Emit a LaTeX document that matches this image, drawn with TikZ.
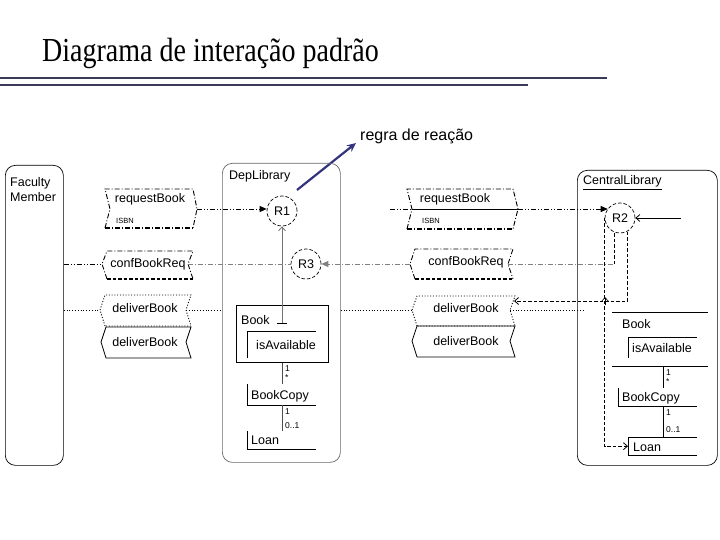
\documentclass[tikz,border=0pt]{standalone}
\usepackage{fontspec}
\usepackage{graphicx}
\setmainfont{Liberation Sans}
\newfontfamily\titlefont{Liberation Serif}
\usetikzlibrary{arrows.meta}
\definecolor{rulecol}{HTML}{3A3A58}
\definecolor{navyarrow}{HTML}{33337F}
\begin{document}
\begin{tikzpicture}[x=1pt,y=-1pt,
  lbl/.style={font=\fontsize{12.5}{14}\selectfont, inner sep=0pt},
  small/.style={font=\fontsize{8.5}{10}\selectfont, inner sep=0pt},
  tiny/.style={font=\fontsize{7.5}{9}\selectfont, inner sep=0pt},
  dd/.style={dash pattern=on 5pt off 2pt on 1pt off 2pt on 1pt off 2pt},
  dashdot/.style={dash pattern=on 5pt off 2pt on 1pt off 2pt},
  dots/.style={dash pattern=on 1pt off 1.8pt},
  dsh/.style={dash pattern=on 3.5pt off 2pt},
  lane/.style={draw, rounded corners=10pt, line width=0.7pt, inner sep=0pt},
  rulec/.style={circle, draw, dsh, line width=0.7pt, minimum size=30pt, inner sep=0pt, font=\fontsize{12.5}{14}\selectfont},
  fillarr/.style={-{Triangle[length=7pt,width=6pt]}},
  openarr/.style={-{Straight Barb[length=4pt,width=7pt]}},
  clsline/.style={line width=0.7pt}
]
\useasboundingbox (0,0) rectangle (720,540);

% title and rules
\node[anchor=base west, inner sep=0pt] (title) at (42,62)
  {\titlefont\fontsize{28}{30}\selectfont\scalebox{1}[1.2]{Diagrama de interação padrão}};
\draw[rulecol, line width=1.1pt] (0,78) -- (607,78);
\draw[rulecol, line width=1.1pt] (0,85) -- (528,85);

% annotation
\node[anchor=base west, inner sep=0pt, font=\fontsize{16}{18}\selectfont] (rr) at (360,141) {regra de reação};
\coordinate (rrtail) at (297,190);
\coordinate (rrtip) at (356,143);
\draw[navyarrow, line width=2.2pt, -{Stealth[length=9pt,width=8pt]}] (rrtail) -- (rrtip);

% lanes
\node[lane, anchor=north west, minimum width=58pt, minimum height=300pt] (fac) at (5,165) {};
\node[lane, draw=black!60, anchor=north west, minimum width=118pt, minimum height=299pt] (dep) at (222,163) {};
\node[lane, anchor=north west, minimum width=140pt, minimum height=295pt] (cen) at (577,170) {};
\node[lbl, anchor=base west] (facT1) at (10,187) {Faculty};
\node[lbl, anchor=base west] (facT2) at (10,202) {Member};
\node[lbl, anchor=base west] (depT) at (229,180) {DepLibrary};
\node[lbl, anchor=base west] (cenT) at (583,185) {\underline{CentralLibrary}};

% reaction rules
\node[rulec] (R1) at (282,211) {R1};
\node[rulec] (R3) at (306,264) {R3};
\node[rulec] (R2) at (620,218) {R2};

% ---- left messages ----
\draw[dashdot, line width=0.9pt] (105,228) -- (110,209) -- (105,189) -- (193,189) -- (197,209) -- (193,228);
\draw[dashdot, line width=1.8pt] (105,228) -- (193,228);
\coordinate (rqLtip) at (197,209);
\node[lbl] (rqL) at (150,199) {requestBook};
\node[tiny, anchor=west] (isbnL) at (116,221) {ISBN};

\draw[dashdot, line width=0.9pt] (107,279) -- (102,264) -- (107,251) -- (193,251) -- (188,264) -- (193,279);
\draw[dsh, line width=1.8pt] (107,279) -- (193,279);
\coordinate (cbLpt) at (102,264);
\coordinate (cbLn) at (188,264);
\node[lbl] (cbL) at (148,264) {confBookReq};

\draw[dots, line width=0.9pt] (105,326) -- (100,310) -- (105,295) -- (191,295) -- (186,310) -- (191,326) -- cycle;
\coordinate (dlLpt) at (100,310);
\coordinate (dlLn) at (186,310);
\node[lbl] (dlL) at (145,308) {deliverBook};

\draw[line width=0.8pt] (106,358) -- (101,342) -- (106,327) -- (191,327) -- (186,342) -- (191,358) -- cycle;
\node[lbl] (dlL2) at (145,342) {deliverBook};

% ---- right messages ----
\draw[dashdot, line width=0.9pt] (407,229) -- (412,209) -- (407,189) -- (513,189) -- (518,209) -- (513,229);
\draw[dashdot, line width=1.8pt] (407,229) -- (513,229);
\coordinate (rqRstart) at (390,209);
\coordinate (rqRn) at (412,209);
\coordinate (rqRtip) at (518,209);
\node[lbl] (rqR) at (455,199) {requestBook};
\node[tiny, anchor=west] (isbnR) at (422,221) {ISBN};

\draw[dashdot, line width=0.9pt] (415,279) -- (410,264) -- (415,249) -- (513,249) -- (508,264) -- (513,279);
\draw[dsh, line width=1.8pt] (415,279) -- (513,279);
\coordinate (cbRpt) at (410,264);
\coordinate (cbRn) at (508,264);
\node[lbl] (cbR) at (466,262) {confBookReq};

\draw[dots, line width=0.9pt] (417,326) -- (412,310) -- (417,296) -- (515,296) -- (510,310) -- (515,326) -- cycle;
\coordinate (dlRpt) at (412,310);
\coordinate (dlRn) at (510,310);
\coordinate (dlRarr) at (514,301);
\node[lbl] (dlR) at (466,308) {deliverBook};

\draw[line width=0.8pt] (417,357) -- (412,341) -- (417,326) -- (515,326) -- (510,341) -- (515,357) -- cycle;
\node[lbl] (dlR2) at (466,341) {deliverBook};

% ---- DepLibrary classes ----
\node[draw, clsline, anchor=north west, minimum width=92pt, minimum height=57pt, inner sep=0pt] (bookD) at (236,305) {};
\node[lbl, anchor=base west] (bookDT) at (241,324) {Book};
\node[anchor=north west, minimum width=69pt, minimum height=27pt, inner sep=0pt] (avD) at (247,331) {};
\draw[clsline] (avD.south west) -- (avD.north west) -- (avD.north east);
\node[lbl] (avDT) at (286,345) {isAvailable};
\node[anchor=north west, minimum width=69pt, minimum height=21pt, inner sep=0pt] (bcD) at (247,384) {};
\draw[clsline] (bcD.north west) -- (bcD.south west) -- (bcD.south east);
\node[lbl, anchor=base west] (bcDT) at (251,399) {BookCopy};
\node[anchor=north west, minimum width=69pt, minimum height=18pt, inner sep=0pt] (lnD) at (247,431) {};
\draw[clsline] (lnD.north west) -- (lnD.south west) -- (lnD.south east);
\node[lbl, anchor=base west] (lnDT) at (251,444) {Loan};
\draw[clsline, black!70] (bookD.south) -- (bookD.south |- bcD.north);
\draw[clsline, black!70] (bookD.south |- bcD.south) -- (bookD.south |- lnD.north);
\node[small, anchor=west] (m1) at (285,369) {1};
\node[small, anchor=west] (m2) at (285,378) {*};
\node[small, anchor=west] (m3) at (285,412) {1};
\node[small, anchor=west] (m4) at (285,426) {0..1};

% Book -> R1
\coordinate (bookTick) at (282,323);
\draw[black!55, line width=0.8pt, openarr] (bookTick) -- (R1.south);
\coordinate (tickL) at (277,323);
\coordinate (tickR) at (287,323);
\draw[clsline] (tickL) -- (tickR);

% ---- CentralLibrary classes ----
\node[anchor=north west, minimum width=96pt, minimum height=54pt, inner sep=0pt] (bookC) at (612,312) {};
\draw[clsline] (bookC.north west) -- (bookC.north east);
\draw[clsline] (bookC.south west) -- (bookC.south east);
\node[lbl, anchor=base west] (bookCT) at (622,328) {Book};
\node[anchor=north west, minimum width=69pt, minimum height=21pt, inner sep=0pt] (avC) at (628,337) {};
\draw[clsline] (avC.south west) -- (avC.north west) -- (avC.north east);
\node[lbl] (avCT) at (662,348) {isAvailable};
\node[anchor=north west, minimum width=79pt, minimum height=18pt, inner sep=0pt] (bcC) at (618,388) {};
\draw[clsline] (bcC.north west) -- (bcC.south west) -- (bcC.south east);
\node[lbl, anchor=base west] (bcCT) at (622,401) {BookCopy};
\node[anchor=north west, minimum width=69pt, minimum height=18pt, inner sep=0pt] (lnC) at (628,437) {};
\draw[clsline] (lnC.north east) -- (lnC.north west) -- (lnC.south west) -- (lnC.south east);
\node[lbl, anchor=base west] (lnCT) at (633,451) {Loan};
\coordinate (linkCx) at (663,0);
\draw[clsline] (linkCx |- bookC.south) -- (linkCx |- bcC.north);
\draw[clsline] (linkCx |- bcC.south) -- (linkCx |- lnC.north);
\node[small, anchor=west] (c1) at (666,373) {1};
\node[small, anchor=west] (c2) at (666,382) {*};
\node[small, anchor=west] (c3) at (666,413) {1};
\node[small, anchor=west] (c4) at (666,430) {0..1};

% ---- connectors ----
% row 1: requestBook
\draw[dd, line width=0.8pt, fillarr] (rqLtip) -- (rqLtip -| R1.west);
\draw[dd, line width=0.8pt] (rqRstart) -- (rqRn);
\draw[line width=0.8pt] (rqRn) -- (rqRtip);
\draw[dd, line width=0.8pt, fillarr] (rqRtip) -- (rqRtip -| R2.143);
% row 2: confBookReq
\draw[dd, line width=0.8pt] (fac.east |- cbLpt) -- (cbLpt);
\draw[dashdot, gray, line width=0.8pt] (cbLn) -- (R3.west);
\draw[dashdot, gray, line width=0.8pt, fillarr] (cbRpt) -- (R3.east);
\coordinate (r2a) at (R2.250 |- cbRn);
\draw[dashdot, gray, line width=0.8pt] (cbRn) -- (r2a);
\draw[dsh, line width=0.8pt] (r2a) -- (R2.250);
% row 3: deliverBook
\draw[dots, line width=0.8pt] (fac.east |- dlLpt) -- (dlLpt);
\draw[dots, line width=0.8pt] (dlLn) -- (dep.west |- dlLn);
\draw[dots, line width=0.8pt] (dep.east |- dlRpt) -- (dlRpt);
\draw[dots, line width=0.8pt] (dlRn) -- ([xshift=8pt]cen.west |- dlRn);
\draw[dsh, line width=0.8pt, openarr] (R2.298) |- (dlRarr);
% R2 to Loan
\draw[dsh, line width=0.8pt, openarr] (R2.west) |- (lnC.west);
\coordinate (hopA) at (605,305);
\coordinate (hopB) at (605,297);
\draw[line width=0.6pt, openarr] (hopA) -- (hopB);
% external input to R2
\coordinate (extR2) at (681,218);
\draw[line width=0.8pt, openarr] (extR2) -- (R2.east);
\end{tikzpicture}
\end{document}
